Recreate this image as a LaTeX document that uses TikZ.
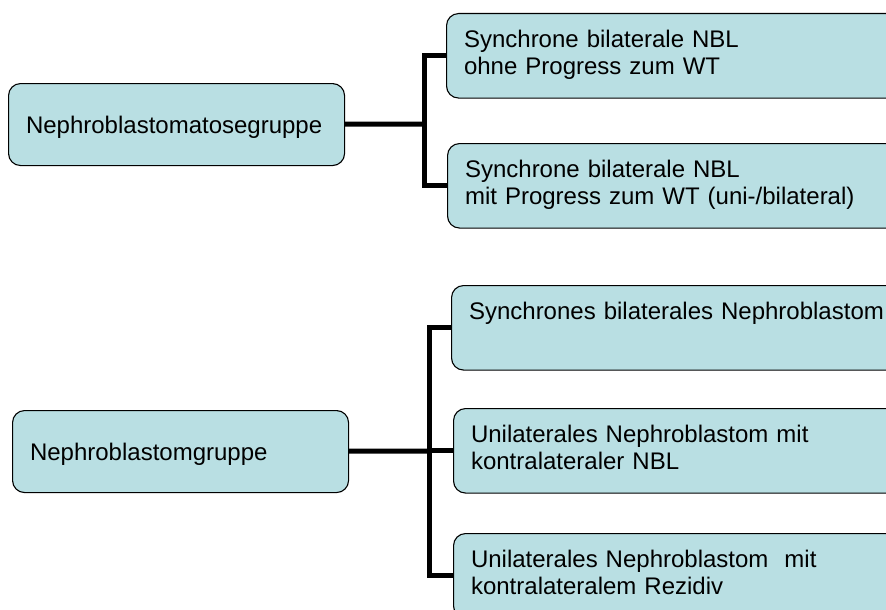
\documentclass[tikz,border=0pt]{standalone}
\usepackage{fontspec}
\setmainfont{Liberation Sans}
\definecolor{boxfill}{RGB}{185,223,227}
\begin{document}
\begin{tikzpicture}[x=1pt,y=-1pt,
  box node/.style={draw=black,line width=1.1pt,fill=boxfill,rounded corners=12pt,
    anchor=north west,align=left,inner xsep=17.5pt,inner ysep=0pt,
    font=\fontsize{24}{27.3}\selectfont},
  group node/.style={box node,text width=301pt,text height=49.5pt,text depth=32.5pt},
  sub node/.style={box node,text width=440pt,text height=33.5pt,text depth=51pt},
  elbow/.style={to path={|- (\tikztotarget)}}]
  \useasboundingbox (0,0) rectangle (886,610);
  \clip (0,0) rectangle (886,610);

  \node[group node] (1) at (8,83) {Nephroblastomatosegruppe};
  \node[sub node] (2) at (446,13) {Synchrone bilaterale NBL\\ohne Progress zum WT};
  \node[sub node] (3) at (447,143) {Synchrone bilaterale NBL\\mit Progress zum WT (uni-/bilateral)};

  \node[group node] (4) at (12,410) {Nephroblastomgruppe};
  \node[sub node] (5) at (451,285) {Synchrones bilaterales Nephroblastom};
  \node[sub node] (6) at (453,408) {Unilaterales Nephroblastom mit\\kontralateraler NBL};
  \node[sub node] (7) at (453,533) {Unilaterales Nephroblastom\ \ mit\\kontralateralem Rezidiv};

  \coordinate (a) at (424,124);
  \coordinate (b) at (429,451);

  \path[line width=5pt]
    (1) edge (a)
    (a) edge[elbow] (2)
    (a) edge[elbow] (3);

  \path[line width=5pt]
    (4) edge (b)
    (b) edge[elbow] (5)
    (b) edge[elbow] (6)
    (b) edge[elbow] (7);
\end{tikzpicture}
\end{document}
